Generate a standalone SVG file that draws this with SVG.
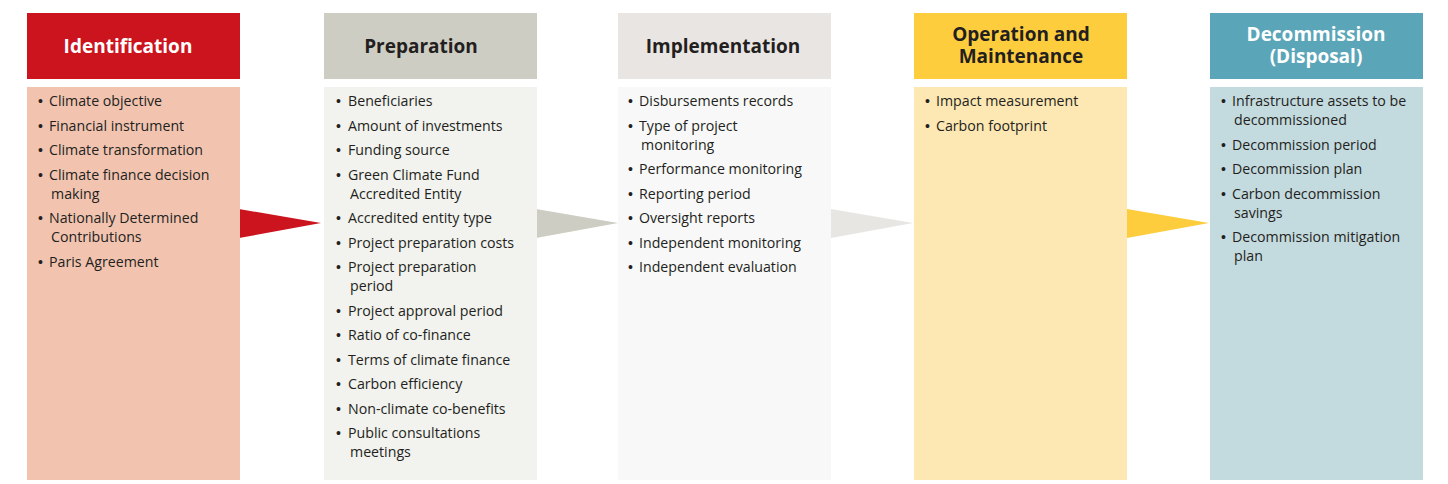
<svg xmlns="http://www.w3.org/2000/svg" width="1448" height="484" viewBox="0 0 1448 484">
<style>
.h{font-family:"Open Sans","Noto Sans","Liberation Sans",sans-serif;font-weight:700;font-size:19px;text-anchor:middle}
.hw{fill:#ffffff}
.hd{fill:#231f20}
.t text{font-family:"Open Sans","Noto Sans","Liberation Sans",sans-serif;font-size:14.2px;fill:#231f20}
.t text.b{font-family:"Liberation Sans",Arial,sans-serif;font-size:14px}
</style>
<rect width="1448" height="484" fill="#ffffff"/>
<g id="connectors">
<polygon points="239,209 321,223 239,238" fill="#cc141e"/>
<polygon points="536,209 618,223 536,238" fill="#cdcdc3"/>
<polygon points="831,209 913,223 831,238" fill="#e8e6e3"/>
<polygon points="1127,209 1209,223 1127,238" fill="#fdcd3e"/>
</g>
<g id="identification">
<rect x="27" y="13" width="213" height="66" fill="#cc141e"/>
<rect x="27" y="87" width="213" height="393" fill="#f2c4b0"/>
<text class="h hw" x="128" y="53">Identification</text>
<g class="t">
<text class="b" x="38" y="106">•</text><text x="49" y="106">Climate objective</text>
<text class="b" x="38" y="130.5">•</text><text x="49" y="130.5">Financial instrument</text>
<text class="b" x="38" y="155">•</text><text x="49" y="155">Climate transformation</text>
<text class="b" x="38" y="179.5">•</text><text x="49" y="179.5">Climate finance decision</text><text x="51" y="198.5">making</text>
<text class="b" x="38" y="223">•</text><text x="49" y="223">Nationally Determined</text><text x="51" y="242">Contributions</text>
<text class="b" x="38" y="266.5">•</text><text x="49" y="266.5">Paris Agreement</text>
</g>
</g>
<g id="preparation">
<rect x="324" y="13" width="213" height="66" fill="#cdcdc3"/>
<rect x="324" y="87" width="213" height="393" fill="#f2f2ee"/>
<text class="h hd" x="421" y="53">Preparation</text>
<g class="t">
<text class="b" x="336" y="106">•</text><text x="348" y="106">Beneficiaries</text>
<text class="b" x="336" y="130.5">•</text><text x="348" y="130.5">Amount of investments</text>
<text class="b" x="336" y="155">•</text><text x="348" y="155">Funding source</text>
<text class="b" x="336" y="179.5">•</text><text x="348" y="179.5">Green Climate Fund</text><text x="350" y="198.5">Accredited Entity</text>
<text class="b" x="336" y="223">•</text><text x="348" y="223">Accredited entity type</text>
<text class="b" x="336" y="247.5">•</text><text x="348" y="247.5">Project preparation costs</text>
<text class="b" x="336" y="272">•</text><text x="348" y="272">Project preparation</text><text x="350" y="291">period</text>
<text class="b" x="336" y="315.5">•</text><text x="348" y="315.5">Project approval period</text>
<text class="b" x="336" y="340">•</text><text x="348" y="340">Ratio of co-finance</text>
<text class="b" x="336" y="364.5">•</text><text x="348" y="364.5">Terms of climate finance</text>
<text class="b" x="336" y="389">•</text><text x="348" y="389">Carbon efficiency</text>
<text class="b" x="336" y="413.5">•</text><text x="348" y="413.5">Non-climate co-benefits</text>
<text class="b" x="336" y="438">•</text><text x="348" y="438">Public consultations</text><text x="350" y="457">meetings</text>
</g>
</g>
<g id="implementation">
<rect x="618" y="13" width="213" height="66" fill="#e9e5e2"/>
<rect x="618" y="87" width="213" height="393" fill="#f8f8f8"/>
<text class="h hd" x="723" y="53">Implementation</text>
<g class="t">
<text class="b" x="628" y="106">•</text><text x="639" y="106">Disbursements records</text>
<text class="b" x="628" y="130.5">•</text><text x="639" y="130.5">Type of project</text><text x="641" y="149.5">monitoring</text>
<text class="b" x="628" y="174">•</text><text x="639" y="174">Performance monitoring</text>
<text class="b" x="628" y="198.5">•</text><text x="639" y="198.5">Reporting period</text>
<text class="b" x="628" y="223">•</text><text x="639" y="223">Oversight reports</text>
<text class="b" x="628" y="247.5">•</text><text x="639" y="247.5">Independent monitoring</text>
<text class="b" x="628" y="272">•</text><text x="639" y="272">Independent evaluation</text>
</g>
</g>
<g id="operation-maintenance">
<rect x="914" y="13" width="213" height="66" fill="#fdcd3e"/>
<rect x="914" y="87" width="213" height="393" fill="#fde8b4"/>
<text class="h hd" x="1021" y="41">Operation and<tspan x="1021" dy="22">Maintenance</tspan></text>
<g class="t">
<text class="b" x="925" y="106">•</text><text x="936" y="106">Impact measurement</text>
<text class="b" x="925" y="130.5">•</text><text x="936" y="130.5">Carbon footprint</text>
</g>
</g>
<g id="decommission">
<rect x="1210" y="13" width="213" height="66" fill="#5ba5b9"/>
<rect x="1210" y="87" width="213" height="393" fill="#c3dadf"/>
<text class="h hw" x="1316" y="41">Decommission<tspan x="1316" dy="22">(Disposal)</tspan></text>
<g class="t">
<text class="b" x="1221" y="106">•</text><text x="1232" y="106">Infrastructure assets to be</text><text x="1234" y="125">decommissioned</text>
<text class="b" x="1221" y="149.5">•</text><text x="1232" y="149.5">Decommission period</text>
<text class="b" x="1221" y="174">•</text><text x="1232" y="174">Decommission plan</text>
<text class="b" x="1221" y="198.5">•</text><text x="1232" y="198.5">Carbon decommission</text><text x="1234" y="217.5">savings</text>
<text class="b" x="1221" y="242">•</text><text x="1232" y="242">Decommission mitigation</text><text x="1234" y="261">plan</text>
</g>
</g>
</svg>
